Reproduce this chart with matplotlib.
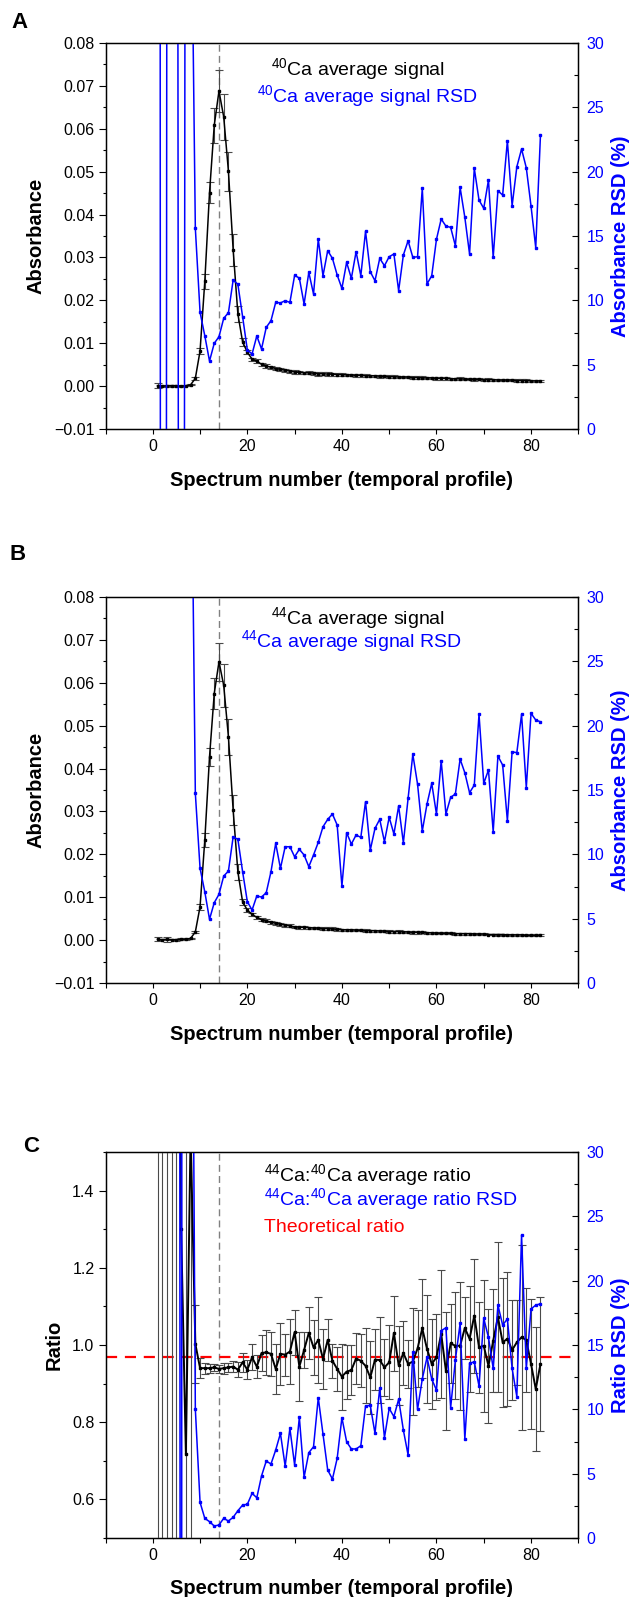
import numpy as np
import matplotlib
matplotlib.use('Agg')
import matplotlib.pyplot as plt
from matplotlib.ticker import MultipleLocator, FuncFormatter

plt.rcParams['font.family'] = ['Liberation Sans', 'DejaVu Sans']
plt.rcParams['mathtext.default'] = 'regular'

# spectrum number (temporal profile)
spectrum = np.arange(1, 83)

# panel A: 40Ca average absorbance and its RSD (%)
abs40 = [0.0001, -0.00005, 0.0001, 0.0001, 0.0001, -0.00005, 0.0001, 0.0003,
         0.0018, 0.0082, 0.0244, 0.0451, 0.0608, 0.0688, 0.0628, 0.0501, 0.0318,
         0.0168, 0.0103, 0.0079, 0.0063,
         0.0058, 0.0051, 0.0047, 0.0044, 0.0041, 0.0039, 0.0037, 0.0035, 0.0033,
         0.0032, 0.0031, 0.0031, 0.0030, 0.0029, 0.0029, 0.0028, 0.0028, 0.0027,
         0.0027, 0.0026, 0.0026, 0.0025, 0.0025, 0.0024, 0.0024, 0.0024, 0.0023,
         0.0023, 0.0022, 0.0022, 0.0021, 0.0021, 0.0021, 0.0020, 0.0020, 0.0019,
         0.0019, 0.0019, 0.0018, 0.0018, 0.0018, 0.0017, 0.0017, 0.0017, 0.0016,
         0.0016, 0.0016, 0.0016, 0.0015, 0.0015, 0.0015, 0.0014, 0.0014, 0.0014,
         0.0014, 0.0013, 0.0013, 0.0013, 0.0012, 0.0012, 0.0012]
rsd40 = [600, -400, 50, 200, 150, -225, 96, 47,
         15.6, 9.07, 7.25, 5.28, 6.66, 7.17, 8.6, 9.04, 11.58, 11.24, 8.73, 6.14,
         5.83, 7.23, 6.22, 7.9, 8.42, 9.84, 9.8, 9.97, 9.84, 11.94, 11.73, 9.71,
         12.17, 10.49, 14.74, 11.91, 13.86, 13.26, 11.97, 10.93, 12.95, 11.71,
         13.78, 11.91, 15.36, 12.22, 11.52, 13.26, 12.69, 13.39, 13.6, 10.75,
         13.52, 14.63, 13.34, 13.39, 18.7, 11.27, 11.91, 14.74, 16.32, 15.77,
         15.67, 14.24, 18.78, 16.45, 13.6, 20.26, 17.79, 17.15, 19.35, 13.34,
         18.52, 18.18, 22.4, 17.35, 20.38, 21.76, 20.3, 17.33, 14.09, 22.87]

# panel B: 44Ca average absorbance and its RSD (%)
abs44 = [0.0002, 0.0001, 0.0002, 0.0001, 0.0001, 0.0002, 0.0002, 0.0004,
         0.0019, 0.0078, 0.0233, 0.0427, 0.0575, 0.0649, 0.0594, 0.0474, 0.0303,
         0.0159, 0.0089, 0.0070, 0.0060,
         0.0053, 0.0048, 0.0045, 0.0042, 0.0039, 0.0037, 0.0035, 0.0033, 0.0031,
         0.0030, 0.0030, 0.0029, 0.0028, 0.0028, 0.0027, 0.0027, 0.0026, 0.0025,
         0.0024, 0.0024, 0.0024, 0.0023, 0.0023, 0.0022, 0.0022, 0.0022, 0.0021,
         0.0021, 0.0020, 0.0020, 0.0020, 0.0019, 0.0019, 0.0018, 0.0018, 0.0018,
         0.0017, 0.0017, 0.0016, 0.0016, 0.0016, 0.0016, 0.0015, 0.0015, 0.0015,
         0.0015, 0.0014, 0.0014, 0.0014, 0.0013, 0.0013, 0.0013, 0.0013, 0.0012,
         0.0012, 0.0012, 0.0012, 0.0011, 0.0011, 0.0011, 0.0011]
rsd44 = [250, 180, 320, 150, 210, 130, 90, 48,
         14.74, 8.91, 7.09, 4.95, 6.24, 6.89, 8.31, 8.7, 11.37, 11.16, 8.65, 6.32,
         5.67, 6.76, 6.68, 7.02, 8.65, 10.85, 8.91, 10.59, 10.59, 9.81, 10.39,
         9.95, 9.04, 9.95, 10.93, 12.14, 12.72, 13.13, 12.28, 7.54, 11.68, 10.8,
         11.5, 11.32, 14.09, 10.33, 12.02, 12.72, 10.98, 12.88, 11.58, 13.75,
         10.9, 14.35, 17.77, 15.46, 11.81, 13.91, 15.52, 13.13, 17.27, 13.13,
         14.43, 14.69, 17.4, 16.34, 14.79, 15.38, 20.88, 15.52, 16.55, 11.76,
         17.64, 16.94, 12.61, 17.97, 17.9, 20.88, 15.18, 20.96, 20.44, 20.3]

# panel C: 44Ca:40Ca average ratio and its RSD (%)
ratio = [3.5, 5.2, 2.8, 6.1, 8.0, 1.30, 0.718, 1.55,
         1.003, 0.940, 0.940, 0.940, 0.942, 0.938, 0.940, 0.942, 0.944, 0.936,
         0.955, 0.936, 0.968, 0.944, 0.979, 0.981, 0.977, 0.938, 0.977, 0.975,
         0.983, 1.033, 0.944, 0.987, 1.031, 0.994, 1.013, 0.964, 1.013, 0.959,
         0.938, 0.918, 0.931, 0.935, 0.965, 0.959, 0.946, 0.916, 0.962, 0.961,
         0.942, 0.955, 1.031, 0.948, 0.979, 0.951, 0.957, 0.991, 1.043, 0.990,
         0.951, 0.968, 1.029, 0.933, 1.004, 0.998, 0.998, 1.044, 1.016, 1.076,
         0.994, 0.998, 0.946, 1.011, 1.072, 1.007, 1.016, 0.987, 1.007, 1.020,
         1.013, 0.951, 0.886, 0.951]
rsd_ratio = [400, 250, 600, 300, 500, -150, 1200, 70,
             10.02, 2.77, 1.53, 1.27, 0.93, 1.01, 1.53, 1.32, 1.61, 2.12, 2.56,
             2.62, 3.47, 3.13, 4.82, 5.98, 5.75, 6.84, 8.13, 5.59, 8.52, 5.67,
             9.38, 4.72, 6.63, 7.09, 10.9, 8.08, 5.28, 4.58, 6.19, 9.35, 7.48,
             6.92, 6.92, 7.17, 10.26, 10.31, 8.13, 11.63, 7.8, 10.07, 9.43, 10.78,
             8.39, 6.45, 14.43, 10.0, 12.35, 14.04, 12.35, 11.5, 16.11, 16.34,
             10.12, 13.83, 16.68, 7.67, 13.57, 13.7, 11.81, 17.07, 15.59, 13.18,
             18.1, 16.55, 17.02, 13.18, 10.98, 23.54, 13.18, 17.8, 18.1, 18.2]

theoretical_ratio = 0.97
peak_spectrum = 14

W, H = 633, 1597
fig = plt.figure(figsize=(W / 100, H / 100), dpi=100)


def px(x, y):
    # pixel position -> figure fraction
    return x / W, 1 - y / H


def minus_fmt(n):
    return FuncFormatter(lambda v, pos: f'{v:.{n}f}'.replace('-', '\u2212'))


def panel(top, y, rsd, ylim, ymajor, yminor, ndec, texts, ylab, rlab,
          letter, letter_xy, ylab_x, lw_main):
    left, right, bottom = 105.5, 578.3, top + 386
    ax = fig.add_axes([left / W, 1 - bottom / H, (right - left) / W, 386 / H])
    y = np.array(y)
    rsd = np.array(rsd)
    err = np.abs(y * rsd / 100)

    ax.errorbar(spectrum, y, yerr=err, color='black', ecolor='#4a4a4a',
                elinewidth=0.8, capsize=3, capthick=0.8, marker='s', ms=1.8,
                lw=lw_main, zorder=3)
    ax.axvline(peak_spectrum, color='#808080', ls=(0, (5, 3)), lw=1, zorder=1)

    ax.set_xlim(-10, 90)
    ax.set_ylim(*ylim)
    ax.xaxis.set_major_locator(MultipleLocator(20))
    ax.xaxis.set_minor_locator(MultipleLocator(10))
    ax.yaxis.set_major_locator(MultipleLocator(ymajor))
    ax.yaxis.set_minor_locator(MultipleLocator(yminor))
    ax.yaxis.set_major_formatter(minus_fmt(ndec))
    ax.tick_params(axis='y', which='major', direction='out', length=5,
                   width=0.8, labelsize=11.5, pad=3)
    ax.tick_params(axis='y', which='minor', direction='out', length=2.5, width=0.8)
    ax.tick_params(axis='x', which='major', direction='out', length=3.5,
                   width=0.8, labelsize=11.5, pad=4)
    ax.tick_params(axis='x', which='minor', direction='out', length=3.5, width=0.8)
    for s in ax.spines.values():
        s.set_linewidth(1.0)

    ax2 = ax.twinx()
    ax2.plot(spectrum, rsd, color='#0000ff', marker='s', ms=1.8, lw=1.1)
    ax2.set_ylim(0, 30)
    ax2.yaxis.set_major_locator(MultipleLocator(5))
    ax2.yaxis.set_minor_locator(MultipleLocator(2.5))
    ax2.tick_params(axis='y', which='major', direction='in', length=4,
                    width=0.8, labelsize=11.5, labelcolor='#0000ff', pad=6)
    ax2.tick_params(axis='y', which='minor', direction='in', length=3, width=0.8)

    for tx, ty, s, c in texts:
        ax2.text(tx, ty, s, color=c, fontsize=14, transform=ax.transAxes,
                 va='baseline', ha='left')

    mid = top + 193
    fig.text(*px(ylab_x, mid), ylab, rotation=90, ha='center', va='center',
             fontsize=14.5, fontweight='bold')
    fig.text(*px(621, mid), rlab, rotation=90, ha='center', va='center',
             fontsize=14.5, fontweight='bold', color='#0000ff')
    fig.text(*px(342, bottom + 51), 'Spectrum number (temporal profile)',
             ha='center', va='center', fontsize=14.5, fontweight='bold')
    fig.text(*px(*letter_xy), letter, ha='center', va='center',
             fontsize=16, fontweight='bold')
    return ax, ax2


# A
panel(43, abs40, rsd40, (-0.01, 0.08), 0.01, 0.005, 2,
      [(0.349, 0.917, r'$^{40}$Ca average signal', 'black'),
       (0.320, 0.848, r'$^{40}$Ca average signal RSD', '#0000ff')],
      'Absorbance', 'Absorbance RSD (%)', 'A', (20, 22.5), 35.5, 1.1)

# B
panel(597, abs44, rsd44, (-0.01, 0.08), 0.01, 0.005, 2,
      [(0.349, 0.930, r'$^{44}$Ca average signal', 'black'),
       (0.287, 0.869, r'$^{44}$Ca average signal RSD', '#0000ff')],
      'Absorbance', 'Absorbance RSD (%)', 'B', (18, 554), 35.5, 1.1)

# C
axc, axc2 = panel(1152, ratio, rsd_ratio, (0.5, 1.5), 0.2, 0.1, 1,
                  [(0.336, 0.924, r'$^{44}$Ca:$^{40}$Ca average ratio', 'black'),
                   (0.336, 0.863, r'$^{44}$Ca:$^{40}$Ca average ratio RSD', '#0000ff'),
                   (0.336, 0.794, 'Theoretical ratio', '#ff0000')],
                  'Ratio', 'Ratio RSD (%)', 'C', (31, 1146), 54.5, 1.4)
axc.axhline(theoretical_ratio, color='#ff0000', ls=(0, (5, 3.5)), lw=1.6, zorder=2)

plt.savefig('out.png', dpi=100)
